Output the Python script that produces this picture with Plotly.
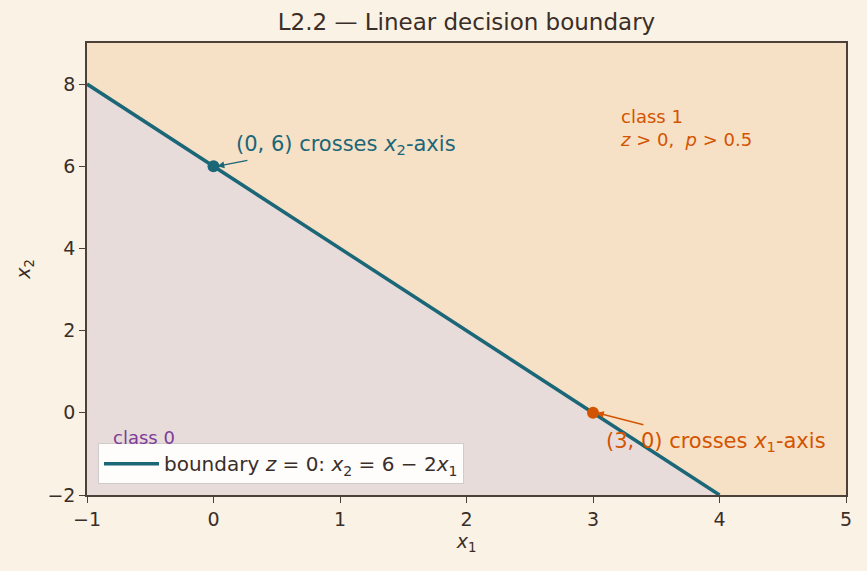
import plotly.graph_objects as go

# Data
x_range = [-1, 5]
y_range = [-2, 9]
boundary_x = [-1, 4]
boundary_y = [8, -2]
point_names = ["x2-intercept", "x1-intercept"]
point_x = [0, 3]
point_y = [6, 0]
x_ticks = [-1, 0, 1, 2, 3, 4, 5]
y_ticks = [-2, 0, 2, 4, 6, 8]

TEAL = "#1B6677"
ORANGE = "#D35400"
PURPLE = "#7D3C98"
INK = "#3A2E28"
FONT = "DejaVu Sans"

fig = go.Figure()

# class 1 region (whole plot background) and class 0 region (below the line)
fig.add_trace(go.Scatter(
    x=[x_range[0], x_range[1], x_range[1], x_range[0]],
    y=[y_range[0], y_range[0], y_range[1], y_range[1]],
    fill="toself", fillcolor="#F6E0C6", line=dict(width=0),
    mode="lines", hoverinfo="skip", showlegend=False))
fig.add_trace(go.Scatter(
    x=[boundary_x[0], boundary_x[0], boundary_x[1]],
    y=[y_range[0], boundary_y[0], boundary_y[1]],
    fill="toself", fillcolor="#E8DCDB", line=dict(width=0),
    mode="lines", hoverinfo="skip", showlegend=False))

fig.add_trace(go.Scatter(
    x=boundary_x, y=boundary_y, mode="lines",
    line=dict(color=TEAL, width=3.5),
    name="boundary <i>z</i> = 0: <i>x</i><sub>2</sub> = 6 − 2<i>x</i><sub>1</sub>"))

fig.add_trace(go.Scatter(
    x=[point_x[0]], y=[point_y[0]], mode="markers",
    marker=dict(color=TEAL, size=12), showlegend=False))
fig.add_trace(go.Scatter(
    x=[point_x[1]], y=[point_y[1]], mode="markers",
    marker=dict(color=ORANGE, size=12), showlegend=False))

ann = []
# arrows
ann.append(dict(x=point_x[0] + 0.03, y=point_y[0], ax=0.28, ay=6.15,
                xref="x", yref="y", axref="x", ayref="y", text="",
                showarrow=True, arrowhead=2, arrowsize=1, arrowwidth=1.4,
                arrowcolor=TEAL))
ann.append(dict(x=point_x[1] + 0.03, y=point_y[1], ax=3.41, ay=-0.3,
                xref="x", yref="y", axref="x", ayref="y", text="",
                showarrow=True, arrowhead=2, arrowsize=1, arrowwidth=1.4,
                arrowcolor=ORANGE))
ann.append(dict(x=0.16, y=6.52, xref="x", yref="y", xanchor="left", yanchor="middle",
                text="(0, 6) crosses <i>x</i><sub>2</sub>-axis", showarrow=False,
                font=dict(family=FONT, size=21, color=TEAL)))
ann.append(dict(x=3.085, y=-0.7, xref="x", yref="y", xanchor="left", yanchor="middle",
                text="(3, 0) crosses <i>x</i><sub>1</sub>-axis", showarrow=False,
                font=dict(family=FONT, size=21, color=ORANGE)))
ann.append(dict(x=3.2, y=6.92, xref="x", yref="y", xanchor="left", yanchor="middle",
                align="left",
                text="class 1<br><i>z</i> > 0,  <i>p</i> > 0.5", showarrow=False,
                font=dict(family=FONT, size=18, color=ORANGE)))
ann.append(dict(x=-0.81, y=-0.59, xref="x", yref="y", xanchor="left", yanchor="middle",
                align="left",
                text="class 0", showarrow=False,
                font=dict(family=FONT, size=18, color=PURPLE)))

axis_common = dict(
    showline=True, mirror=True, linecolor="#4D4038", linewidth=1.5,
    ticks="outside", ticklen=6, tickcolor="#4D4038", tickwidth=1.3,
    showgrid=True, gridcolor="#BDB2A8", griddash="dot", gridwidth=1,
    zeroline=False, tickfont=dict(family=FONT, size=19, color=INK),
)

fig.update_layout(
    width=867, height=571,
    margin=dict(l=87, r=21, t=43, b=76),
    paper_bgcolor="#FAF2E4", plot_bgcolor="#F6E0C6",
    title=dict(text="L2.2 — Linear decision boundary", x=0.538, xanchor="center",
               y=0.962, yanchor="middle",
               font=dict(family=FONT, size=23, color=INK)),
    xaxis=dict(range=x_range, tickvals=x_ticks,
               ticktext=[str(t).replace("-", "−") for t in x_ticks],
               title=dict(text="<i>x</i><sub>1</sub>", standoff=6,
                          font=dict(family=FONT, size=19, color=INK)),
               **axis_common),
    yaxis=dict(range=y_range, tickvals=y_ticks,
               ticktext=[str(t).replace("-", "−") for t in y_ticks],
               title=dict(text="<i>x</i><sub>2</sub>", standoff=12,
                          font=dict(family=FONT, size=19, color=INK)),
               **axis_common),
    legend=dict(x=0.0145, y=0.024, xanchor="left", yanchor="bottom",
                bgcolor="rgba(255,255,255,0.92)", bordercolor="#D0CCCC", borderwidth=1,
                itemwidth=55,
                font=dict(family=FONT, size=20, color=INK)),
    annotations=ann,
    showlegend=True,
)

fig.write_html("out.html")
